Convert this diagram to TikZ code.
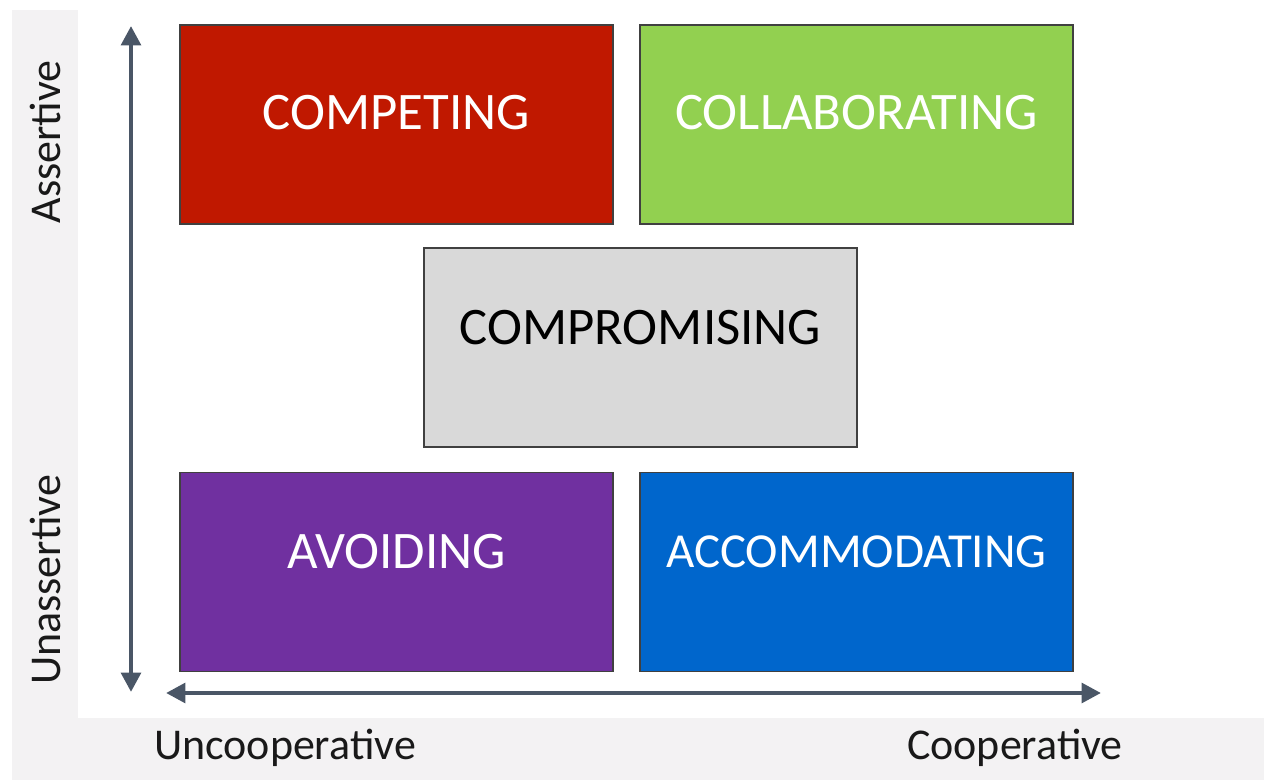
\documentclass[tikz,border=0pt]{standalone}
\usepackage{fontspec}
\setmainfont{Carlito}
\usetikzlibrary{positioning}
\usetikzlibrary{arrows.meta}

\definecolor{axisgray}{HTML}{4A5666}
\definecolor{stripgray}{HTML}{F3F2F3}
\definecolor{competred}{HTML}{C01800}
\definecolor{collabgreen}{HTML}{92D050}
\definecolor{comprogray}{HTML}{D9D9D9}
\definecolor{avoidpurple}{HTML}{7030A0}
\definecolor{accomblue}{HTML}{0066CC}

\begin{document}
\begin{tikzpicture}[x=0.01cm, y=-0.01cm,
  mode/.style={draw=black!75, line width=0.5pt, minimum width=4.33cm, minimum height=1.99cm,
    inner sep=0pt, text depth=0.41cm, font=\fontsize{15}{17}\selectfont},
  toprow/.style={mode, text depth=0.24cm},
  axis/.style={axisgray, line width=1.3pt, {Triangle[length=5.5pt, width=5.5pt]}-{Triangle[length=5.5pt, width=5.5pt]}},
  lbl/.style={font=\fontsize{12.5}{14}\selectfont, text=black!90}]
\useasboundingbox (0,0) rectangle (1264,780);
% grey margins
\fill [stripgray] (12,10) rectangle (78,780);
\fill [stripgray] (12,718) rectangle (1264,780);

% the five modes
\node [toprow, fill=competred, text=white] (competing) at (396.5,124.5) {COMPETING};
\node [toprow, fill=collabgreen, text=white] (collab) at (856.5,124.5) {COLLABORATING};
\node [mode, fill=comprogray, text=black] (compro) at (640.5,347.5) {COMPROMISING};
\node [mode, fill=avoidpurple, text=white] (avoiding) at (396.5,572) {AVOIDING};
\node [mode, fill=accomblue, text=white, font=\fontsize{13.9}{16}\selectfont] (accom) at (856.5,572) {ACCOMMODATING};

% axes
\coordinate (top) at (131,26);
\coordinate (bottom) at (131,692);
\coordinate (left) at (166,693);
\coordinate (right) at (1101,693);
\draw [axis] (top) -- (bottom);
\draw [axis] (left) -- (right);

\node [lbl, rotate=90] (assert) at (45,142) {Assertive};
\node [lbl, rotate=90] (unassert) at (45,580) {Unassertive};
\node [lbl] (uncoop) at (285,748) {Uncooperative};
\node [lbl] (coop) at (1015,748) {Cooperative};
\end{tikzpicture}
\end{document}
